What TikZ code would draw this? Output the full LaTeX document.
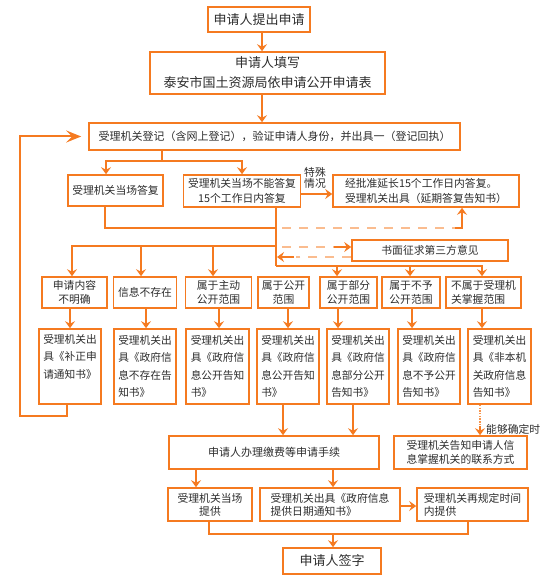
\documentclass[tikz,border=0pt]{standalone}
\usepackage{fontspec}
\setmainfont{Noto Sans CJK SC}
\usetikzlibrary{arrows.meta}
\definecolor{org}{RGB}{245,122,32}
\definecolor{txt}{RGB}{45,45,45}
\newcommand\myfs[2]{\fontsize{#1pt}{#2pt}\selectfont}
\tikzset{
  bx/.style={draw=org, line width=1.6pt, fill=white, text=txt, inner sep=0pt, align=center, font=\myfs{10.8}{14}},
  ar/.style={draw=org, line width=2pt, -{Stealth[length=7pt,width=10pt,inset=2.5pt,color=org]}},
  bigar/.style={draw=org, line width=2pt, -{Stealth[length=15pt,width=12pt,inset=6pt,color=org]}},
  ln/.style={draw=org, line width=2pt},
  dsh/.style={draw=org!50, line width=1.6pt, dash pattern=on 9pt off 8pt},
  dtt/.style={draw=org!80, line width=1.6pt, dash pattern=on 1.5pt off 1.2pt},
  lbl/.style={text=txt, inner sep=0pt, font=\myfs{10.8}{11.7}}
}
\begin{document}
\begin{tikzpicture}[x=1pt,y=-1pt]
\fill[white] (0,0) rectangle (547,580);
\useasboundingbox (0,0) rectangle (547,580);

% top
\node[bx, font=\myfs{13}{20}, minimum width=102, minimum height=25] (n1) at (259,19.5) {申请人提出申请};
\node[bx, font=\myfs{13}{20}, minimum width=235, minimum height=42] (n2) at (267.5,73) {申请人填写\\泰安市国土资源局依申请公开申请表};
\node[bx, font=\myfs{11}{14}, minimum width=371, minimum height=27] (n3) at (274.5,136.5) {受理机关登记（含网上登记），验证申请人身份，并出具一（登记回执）};
\node[bx, minimum width=95, minimum height=31] (n4) at (115.5,190.5) {受理机关当场答复};
\node[bx, font=\myfs{10.8}{15}, minimum width=117, minimum height=32] (n5) at (242,191) {受理机关当场不能答复\\15个工作日内答复};
\node[bx, font=\myfs{10.8}{15}, align=left, minimum width=186, minimum height=32] (n6) at (426,191) {经批准延长15个工作日内答复。\\受理机关出具（延期答复告知书）};
\node[lbl, align=center] (tsqk) at (315,178) {特殊\\情况};
\node[bx, minimum width=156, minimum height=21] (n7) at (430,250.5) {书面征求第三方意见};

% row 1
\node[bx, minimum width=65, minimum height=31] (A) at (74.5,292.5) {申请内容\\不明确};
\node[bx, minimum width=63, minimum height=31] (B) at (145,292.5) {信息不存在};
\node[bx, minimum width=66, minimum height=31] (C) at (218.5,292.5) {属于主动\\公开范围};
\node[bx, minimum width=51, minimum height=31] (D) at (283.5,292.5) {属于公开\\范围};
\node[bx, minimum width=57, minimum height=31] (E) at (348.5,292.5) {属于部分\\公开范围};
\node[bx, minimum width=58, minimum height=31] (F) at (411,292.5) {属于不予\\公开范围};
\node[bx, align=left, minimum width=75, minimum height=31] (G) at (483.5,292.5) {不属于受理机\\关掌握范围};

% row 2
\tikzset{rtwo/.style={bx, align=left, font=\myfs{10.7}{17.5}, minimum width=62, minimum height=75}}
\node[rtwo] (A2) at (70,366.5) {受理机关出\\具《补正申\\请通知书》\\[3pt]};
\node[rtwo] (B2) at (145,366.5) {受理机关出\\具《政府信\\息不存在告\\知书》};
\node[rtwo, minimum width=63] (C2) at (217.5,366.5) {受理机关出\\具《政府信\\息公开告知\\书》};
\node[rtwo] (D2) at (288,366.5) {受理机关出\\具《政府信\\息公开告知\\书》};
\node[rtwo] (E2) at (358,366.5) {受理机关出\\具《政府信\\息部分公开\\告知书》};
\node[rtwo] (F2) at (429,366.5) {受理机关出\\具《政府信\\息不予公开\\告知书》};
\node[rtwo, minimum width=63] (G2) at (499.5,366.5) {受理机关出\\具《非本机\\关政府信息\\告知书》};

% lower part
\node[bx, font=\myfs{11}{14}, minimum width=210, minimum height=33] (H) at (274,452.5) {申请人办理缴费等申请手续};
\node[bx, minimum width=133, minimum height=33] (I) at (460.5,452.5) {受理机关告知申请人信\\息掌握机关的联系方式};
\node[lbl, anchor=west] (nqd) at (486,429) {能够确定时};
\node[bx, font=\myfs{10.8}{13}, minimum width=84, minimum height=33] (J) at (210,504.5) {受理机关当场\\提供};
\node[bx, font=\myfs{10.8}{13}, align=left, minimum width=140, minimum height=33] (K) at (330,504.5) {受理机关出具《政府信息\\提供日期通知书》};
\node[bx, font=\myfs{10.8}{13}, align=left, minimum width=111, minimum height=33] (L) at (472.5,504.5) {受理机关再规定时间\\内提供};
\node[bx, font=\myfs{13}{20}, minimum width=98, minimum height=26] (M) at (332,561) {申请人签字};

% connectors top
\draw[ar] (262,0 |- n1.south) -- (262,0 |- n2.north);
\draw[ar] (262,0 |- n2.south) -- (262,0 |- n3.north);
\coordinate (b1) at (162,161);
\draw[ln] (162,0 |- n3.south) -- (b1);
\draw[ar] (b1) -| (106,0 |- n4.north);
\draw[ar] (b1) -| (n5.north);
\draw[ar] (n5.east |- 0,194) -- (n6.west |- 0,194);

% trunk
\coordinate (t1) at (276,228);
\coordinate (t2) at (276,246);
\coordinate (t3) at (276,266);
\draw[ln] (105,0 |- n4.south) |- (t1);
\draw[ln] (276,0 |- n5.south) -- (t3);
\draw[dsh] (282,228) -- (458,228);
\draw[ar] (462,228) -- (462,0 |- n6.south);
\draw[ln, line cap=butt] (455,228) -- (463,228);
\draw[dsh] (282,247) -- (336,247);
\draw[ar] (334,247) -- (n7.west |- 0,247);
\draw[dsh] (n7.west |- 0,257) -- (296,257);
\draw[ar] (294,257) -- (277,257);

% distribution
\draw[ar] (t2) -| (72,0 |- A.north);
\draw[ar] (141,246) -- (141,0 |- B.north);
\draw[ar] (213,246) -- (213,0 |- C.north);
\draw[ln] (t3) -- (337,266);
\draw[ar] (337,266) -- (337,0 |- E.north);
\draw[ar] (337,266) -| (410,0 |- F.north);
\draw[ar] (410,266) -| (482,0 |- G.north);

% row1 -> row2
\draw[ar] (70,0 |- A.south) -- (70,0 |- A2.north);
\draw[ar] (146,0 |- B.south) -- (146,0 |- B2.north);
\draw[ar] (219,0 |- C.south) -- (219,0 |- C2.north);
\draw[ar] (288,0 |- D.south) -- (288,0 |- D2.north);
\draw[ar] (338,0 |- E.south) -- (338,0 |- E2.north);
\draw[ar] (412,0 |- F.south) -- (412,0 |- F2.north);
\draw[ar] (482,0 |- G.south) -- (482,0 |- G2.north);

% feedback
\draw[bigar, shorten >=7pt] (67,0 |- A2.south) |- (20,416) |- (n3.west);

% row2 -> lower
\draw[ar] (283,0 |- D2.south) -- (283,0 |- H.north);
\draw[ar] (353,0 |- E2.south) -- (353,0 |- H.north);
\draw[dtt] (480,0 |- G2.south) -- (480,427);
\draw[ar] (480,426) -- (480,0 |- I.north);
\draw[ar] (196,0 |- H.south) -- (196,0 |- J.north);
\draw[ar] (333,0 |- H.south) -- (333,0 |- K.north);
\draw[ar] (K.east |- 0,506) -- (L.west |- 0,506);
\draw[ln] (209,0 |- J.south) |- (468,534) -- (468,0 |- L.south);
\draw[ar] (333,534) -- (333,0 |- M.north);
\end{tikzpicture}
\end{document}
